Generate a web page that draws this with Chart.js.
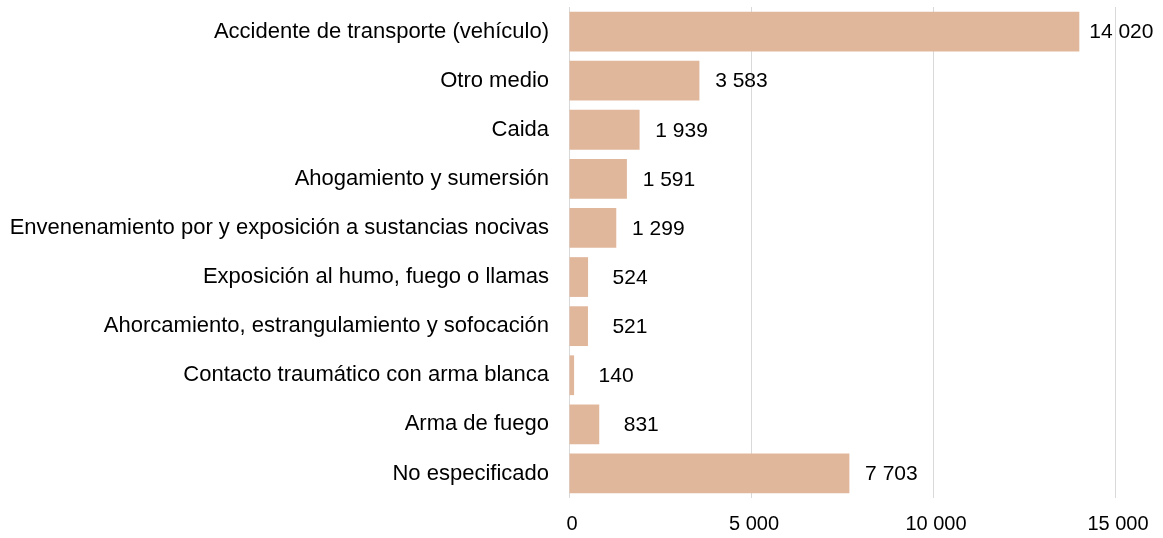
<!DOCTYPE html>
<html>
<head>
<meta charset="utf-8">
<script src="https://cdn.jsdelivr.net/npm/chart.js@4/dist/chart.umd.min.js"></script>
<style>
  html, body { margin: 0; padding: 0; background: #ffffff; }
  #wrap { width: 1163px; height: 538px; }
</style>
</head>
<body>
<div id="wrap"><canvas id="chart" width="1163" height="538"></canvas></div>
<script>
// Causes of death and their counts
const categories = [
  "Accidente de transporte (vehículo)",
  "Otro medio",
  "Caida",
  "Ahogamiento y sumersión",
  "Envenenamiento por y exposición a sustancias nocivas",
  "Exposición al humo, fuego o llamas",
  "Ahorcamiento, estrangulamiento y sofocación",
  "Contacto traumático con arma blanca",
  "Arma de fuego",
  "No especificado"
];
const values = [14020, 3583, 1939, 1591, 1299, 524, 521, 140, 831, 7703];
const xTicks = [0, 5000, 10000, 15000];

const FONT = "'Liberation Sans', Arial, sans-serif";

// Thousands separated by a space, as in "14 020"
function fmt(n) {
  return String(n).replace(/\B(?=(\d{3})+(?!\d))/g, " ");
}

// Writes each bar's value just past its end
const valueLabels = {
  id: "valueLabels",
  afterDatasetsDraw(chart) {
    const ctx = chart.ctx;
    const meta = chart.getDatasetMeta(0);
    ctx.save();
    ctx.font = "21px " + FONT;
    ctx.fillStyle = "#000000";
    ctx.textAlign = "center";
    ctx.textBaseline = "middle";
    meta.data.forEach((bar, i) => {
      ctx.fillText(fmt(values[i]), bar.x + 42, bar.y + 1);
    });
    ctx.restore();
  }
};

new Chart(document.getElementById("chart"), {
  type: "bar",
  data: {
    labels: categories,
    datasets: [{
      data: values,
      backgroundColor: "#E1B79C",
      borderWidth: 0,
      barPercentage: 0.81,
      categoryPercentage: 1.0
    }]
  },
  options: {
    indexAxis: "y",
    responsive: false,
    animation: false,
    events: [],
    layout: { padding: { left: 0, right: 48, top: 7, bottom: 0 } },
    plugins: {
      legend: { display: false },
      tooltip: { enabled: false }
    },
    scales: {
      x: {
        min: 0,
        max: 15000,
        afterBuildTicks(scale) {
          scale.ticks = xTicks.map(v => ({ value: v }));
        },
        afterFit(scale) {
          scale.height = 40;
          scale.paddingLeft = 0;
          scale.paddingRight = 0;
        },
        border: { display: false },
        grid: {
          color: "#d9d9d9",
          lineWidth: 1,
          drawTicks: false
        },
        ticks: {
          padding: 14,
          labelOffset: 3,
          color: "#000000",
          font: { family: FONT, size: 20 },
          callback: v => fmt(v)
        }
      },
      y: {
        afterFit(scale) {
          scale.width = 569;
          scale.paddingTop = 0;
          scale.paddingBottom = 0;
        },
        border: { display: false },
        grid: { display: false, drawTicks: false },
        ticks: {
          padding: 20,
          color: "#000000",
          font: { family: FONT, size: 22 }
        }
      }
    }
  },
  plugins: [valueLabels]
});
</script>
</body>
</html>
